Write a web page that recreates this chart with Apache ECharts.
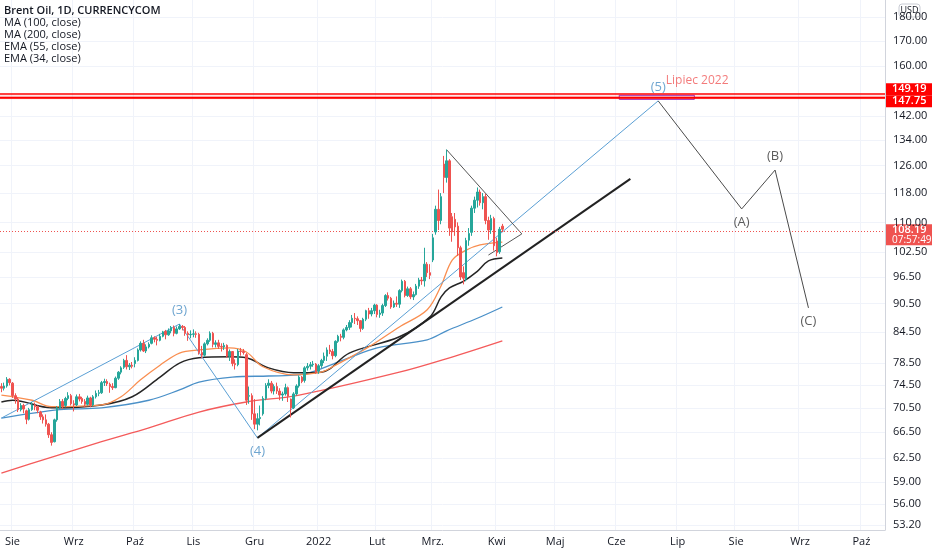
<!DOCTYPE html>
<html>
<head>
<meta charset="utf-8">
<script src="https://cdn.jsdelivr.net/npm/echarts@6/dist/echarts.min.js"></script>
<style>
html, body { margin: 0; padding: 0; background: #fff; }
#chart { width: 932px; height: 550px; }
</style>
</head>
<body>
<div id="chart"></div>
<script>
// --- data ---
const monthNames = ['Sty', 'Lut', 'Mrz.', 'Kwi', 'Maj', 'Cze', 'Lip', 'Sie', 'Wrz', 'Paź', 'Lis', 'Gru'];
const firstDay = '2021-07-27';
const totalBars = 318;
const priceTicks = [180, 170, 160, 142, 134, 126, 118, 110, 102.5, 96.5, 90.5, 84.5, 78.5, 74.5, 70.5, 66.5, 62.5, 59, 56, 53.2];

// [open, close, low, high], one row per trading day from firstDay
const candles = [
  // lip 2021
  [74.2, 73.9, 73.2, 74.8], [73.9, 74.3, 73.5, 74.9], [74.3, 75.5, 74.0, 75.9], [75.5, 74.9, 74.4, 75.7],
  // sie
  [74.8, 72.6, 72.2, 75.0], [72.6, 72.0, 71.2, 73.0], [72.0, 70.2, 69.8, 72.3], [70.2, 70.9, 69.9, 71.3],
  [70.9, 70.3, 69.6, 71.2], [70.0, 68.6, 67.8, 70.2], [68.6, 70.2, 68.4, 70.5], [70.2, 71.0, 70.0, 71.5],
  [71.0, 70.7, 70.1, 71.4], [70.7, 70.1, 69.6, 70.9], [69.8, 69.0, 68.5, 70.0], [69.0, 68.5, 67.9, 69.4],
  [68.5, 67.8, 67.4, 69.4], [67.8, 66.1, 65.6, 68.0], [66.1, 64.9, 64.4, 66.5], [65.0, 68.5, 64.9, 68.7],
  [68.5, 70.5, 68.2, 70.8], [70.5, 71.6, 70.3, 72.0], [71.6, 70.8, 70.3, 72.0], [70.9, 72.1, 70.6, 72.4],
  [72.1, 72.6, 71.8, 73.2], [72.6, 71.2, 70.9, 72.9],
  // wrz
  [71.2, 71.0, 69.9, 71.8], [71.0, 72.4, 70.8, 72.8], [72.4, 72.0, 71.6, 72.9], [72.1, 71.6, 71.2, 72.4],
  [71.6, 71.1, 70.6, 72.0], [71.1, 72.2, 70.9, 72.6], [72.2, 71.0, 70.6, 72.4], [71.0, 72.4, 70.8, 72.7],
  [72.4, 73.0, 72.1, 73.5], [73.0, 73.1, 72.5, 73.6], [73.1, 74.9, 72.9, 75.2], [74.9, 75.1, 74.3, 75.6],
  [75.1, 74.7, 74.3, 75.5], [74.6, 74.2, 73.1, 74.9], [74.2, 74.0, 73.6, 74.8], [74.0, 75.7, 73.9, 76.0],
  [75.7, 76.8, 75.4, 77.0], [76.8, 77.6, 76.4, 77.9], [77.7, 79.0, 77.4, 79.3], [79.0, 77.8, 77.3, 80.0],
  [77.8, 78.1, 77.2, 78.5], [78.1, 77.9, 77.5, 78.7],
  // paź
  [78.4, 79.0, 77.7, 79.6], [79.0, 81.0, 78.8, 81.3], [81.0, 82.3, 80.7, 82.7], [82.3, 80.8, 80.6, 83.0],
  [80.8, 81.6, 80.4, 82.1], [81.6, 82.1, 81.3, 82.5], [82.3, 83.4, 82.1, 83.9], [83.4, 83.1, 82.5, 83.7],
  [83.1, 82.9, 81.9, 83.6], [82.9, 83.7, 82.7, 84.2], [83.7, 84.6, 83.5, 84.8], [84.7, 84.0, 83.1, 85.0],
  [84.0, 84.8, 83.8, 85.3], [84.8, 85.5, 84.3, 85.8], [85.5, 84.3, 83.7, 85.9], [84.3, 85.2, 84.1, 85.7],
  [85.2, 85.7, 85.0, 86.2], [85.7, 85.5, 84.9, 86.0], [85.5, 84.3, 83.8, 85.8], [84.3, 84.0, 82.8, 84.7],
  [84.0, 84.1, 83.3, 84.9],
  // lis
  [84.1, 84.2, 83.5, 85.1], [84.2, 84.1, 83.4, 84.7], [84.1, 80.5, 80.1, 84.4], [80.5, 80.0, 79.4, 81.8],
  [80.0, 82.2, 79.7, 82.5], [82.2, 82.9, 81.9, 83.3], [82.9, 84.3, 82.6, 84.7], [84.3, 82.1, 81.5, 84.6],
  [82.1, 82.4, 81.5, 82.9], [82.4, 81.7, 81.2, 83.0], [81.7, 81.6, 80.7, 82.3], [81.6, 81.9, 81.0, 82.4],
  [81.9, 79.8, 79.5, 82.1], [79.8, 80.7, 78.9, 81.1], [80.7, 78.4, 77.9, 80.8], [78.4, 78.2, 77.3, 79.2],
  [78.2, 80.8, 77.9, 81.2], [80.8, 80.7, 79.9, 81.4], [80.7, 80.5, 80.1, 81.2], [80.1, 71.8, 71.0, 80.4],
  [72.5, 72.6, 71.2, 74.2], [72.6, 69.5, 68.5, 73.0],
  // gru
  [69.5, 67.8, 67.0, 72.0], [67.8, 68.7, 66.8, 69.6], [68.7, 68.9, 67.6, 70.9], [69.5, 72.1, 69.2, 72.5],
  [72.1, 74.4, 71.8, 74.8], [74.4, 74.8, 73.9, 75.5], [74.8, 73.4, 73.0, 75.2], [73.4, 74.2, 72.8, 74.6],
  [74.2, 73.4, 72.9, 74.9], [73.4, 72.7, 71.8, 73.9], [72.7, 72.9, 71.7, 73.3], [72.9, 74.0, 72.6, 74.7],
  [74.0, 72.5, 71.5, 74.2], [72.0, 70.5, 68.9, 72.1], [70.5, 72.9, 70.3, 73.2], [72.9, 74.3, 72.6, 74.6],
  [74.3, 75.9, 74.0, 76.2], [75.9, 75.1, 74.8, 76.1], [75.3, 77.6, 74.9, 77.9], [77.6, 77.9, 77.1, 78.5],
  [77.9, 78.2, 77.3, 78.7], [78.2, 78.3, 77.8, 78.9], [78.3, 76.8, 76.5, 78.5],
  // sty 2022
  [77.0, 78.0, 76.5, 78.3], [78.0, 79.0, 77.6, 79.3], [79.0, 79.8, 78.5, 80.5], [79.8, 81.0, 78.9, 81.5],
  [81.0, 80.7, 80.2, 82.0], [80.7, 79.9, 79.2, 81.2], [79.9, 82.7, 79.6, 82.9], [82.7, 83.7, 82.4, 84.0],
  [83.7, 83.5, 82.7, 84.2], [83.5, 85.0, 83.1, 85.3], [85.0, 85.5, 84.7, 86.0], [85.5, 86.5, 85.0, 87.0],
  [86.5, 87.4, 85.5, 88.1], [87.4, 87.3, 86.2, 88.5], [87.3, 86.9, 86.0, 87.8], [86.9, 85.3, 84.6, 87.0],
  [85.3, 87.2, 85.0, 87.5], [87.2, 89.0, 86.8, 89.2], [89.0, 88.3, 87.3, 89.6], [88.3, 89.0, 87.8, 89.6],
  [89.0, 90.2, 88.3, 90.5],
  // lut
  [90.2, 88.2, 87.6, 90.4], [88.2, 88.5, 87.5, 89.2], [88.5, 90.1, 87.9, 90.5], [90.1, 92.3, 89.8, 92.6],
  [92.3, 91.7, 91.2, 93.0], [91.7, 89.8, 89.4, 92.0], [89.8, 90.6, 89.6, 91.2], [90.6, 90.4, 89.8, 92.1],
  [90.4, 93.4, 89.6, 93.7], [93.4, 95.5, 93.0, 95.9], [95.5, 92.3, 91.9, 95.8], [92.3, 93.8, 92.0, 94.3],
  [93.8, 92.0, 91.5, 94.2], [92.0, 92.5, 91.3, 93.2], [92.5, 94.4, 92.3, 94.9], [94.4, 95.8, 93.8, 96.3],
  [95.8, 95.6, 94.7, 96.5], [95.6, 99.5, 94.3, 103.5], [99.5, 97.5, 96.5, 100.0], [97.5, 96.9, 96.0, 99.5],
  // mrz
  [100.5, 106.0, 100.0, 107.0], [107.5, 113.5, 106.8, 114.5], [113.5, 110.5, 108.0, 119.0], [110.5, 117.0, 109.5, 118.0],
  [126.5, 122.5, 118.0, 129.0], [122.5, 127.5, 121.0, 131.0], [127.5, 108.5, 106.5, 128.0], [111.5, 107.5, 105.0, 112.5],
  [110.8, 108.8, 106.5, 112.5], [109.0, 103.5, 101.5, 110.0], [103.5, 96.5, 95.8, 104.0], [97.5, 96.2, 94.8, 99.0],
  [96.0, 105.3, 95.5, 106.0], [105.4, 107.1, 104.0, 108.5], [107.4, 113.8, 106.5, 114.5], [113.8, 116.0, 112.5, 117.0],
  [116.0, 118.3, 114.0, 119.6], [118.3, 115.3, 114.5, 119.0], [115.3, 117.0, 113.5, 118.0], [117.0, 110.5, 109.5, 117.8],
  [110.5, 108.0, 105.5, 111.5], [108.0, 111.0, 107.0, 112.0], [111.0, 104.0, 102.8, 111.5],
  // kwi
  [105.2, 102.3, 101.4, 106.0], [102.5, 108.2, 102.0, 108.8], [109.0, 108.19, 107.5, 109.6]
];

// moving averages, [date, price]
const ma100 = [
  ['2021-07-27', 68.8], ['2021-08-25', 70.2], ['2021-09-15', 70.5], ['2021-10-08', 71.8], ['2021-10-25', 73.6],
  ['2021-11-03', 75.0], ['2021-11-19', 75.9], ['2021-12-08', 76.1], ['2021-12-23', 76.3], ['2022-01-14', 79.1],
  ['2022-02-01', 81.4], ['2022-02-25', 83.0], ['2022-03-08', 84.8], ['2022-03-23', 87.4], ['2022-04-05', 89.8]
];
const ma200 = [
  ['2021-07-27', 60.3], ['2021-08-19', 62.5], ['2021-09-15', 65.0], ['2021-10-08', 67.2], ['2021-11-03', 69.8],
  ['2021-11-26', 71.5], ['2021-12-23', 72.7], ['2022-02-11', 76.8], ['2022-03-09', 79.5], ['2022-04-05', 82.8]
];
const ema55 = [
  ['2021-07-27', 71.5], ['2021-08-02', 71.8], ['2021-08-20', 70.5], ['2021-09-15', 71.0], ['2021-09-30', 72.4],
  ['2021-10-14', 75.9], ['2021-10-25', 78.5], ['2021-11-03', 79.5], ['2021-11-18', 79.7], ['2021-11-26', 79.5],
  ['2021-12-08', 77.6], ['2021-12-21', 76.7], ['2022-01-04', 76.8], ['2022-01-18', 80.4], ['2022-02-11', 83.6],
  ['2022-02-28', 87.7], ['2022-03-04', 92.0], ['2022-03-09', 94.0], ['2022-03-16', 95.5], ['2022-03-23', 97.8],
  ['2022-03-29', 100.3], ['2022-04-05', 101.0]
];
const ema34 = [
  ['2021-07-27', 72.7], ['2021-08-11', 71.8], ['2021-08-20', 70.7], ['2021-09-15', 71.0], ['2021-09-24', 72.4],
  ['2021-10-05', 75.4], ['2021-10-14', 78.1], ['2021-10-25', 80.4], ['2021-11-03', 81.0], ['2021-11-18', 81.4],
  ['2021-11-26', 80.6], ['2021-12-06', 77.8], ['2021-12-21', 76.3], ['2022-01-04', 76.8], ['2022-01-10', 77.8],
  ['2022-01-27', 81.6], ['2022-02-11', 85.6], ['2022-02-25', 89.2], ['2022-03-04', 94.5], ['2022-03-10', 100.5],
  ['2022-03-17', 102.9], ['2022-03-24', 104.2], ['2022-04-05', 104.9]
];

// drawings
const wavePoints = [['2021-07-27', 68.8], ['2021-10-25', 86.2], ['2021-12-02', 65.6], ['2022-06-22', 147.2]];
const waveNames = ['', '(3)', '(4)', '(5)'];
const correctionPoints = [['2022-06-22', 147.2], ['2022-08-03', 113.6], ['2022-08-19', 124.7], ['2022-09-06', 89.6]];
const correctionNames = ['', '(A)', '(B)', '(C)'];
const trendPoints = [['2021-12-02', 65.6], ['2022-06-08', 122.1]];
const trianglePoints = [['2022-03-08', 130.9], ['2022-04-14', 107.0], ['2022-03-29', 101.7]];
const levels = [149.19, 147.75];
const targetZone = ['2022-06-02', '2022-07-11'];
const targetNote = ['2022-07-12', 154.4, 'Lipiec 2022'];
const lastPrice = 108.19;
const barTimer = '07:57:49';
const legendLines = ['Brent Oil, 1D, CURRENCYCOM', 'MA (100, close)', 'MA (200, close)', 'EMA (55, close)', 'EMA (34, close)'];

// --- build ---
function weekdays(start, n) {
  const out = [];
  const d = new Date(start + 'T00:00:00Z');
  while (out.length < n) {
    const wd = d.getUTCDay();
    if (wd !== 0 && wd !== 6) out.push(d.toISOString().slice(0, 10));
    d.setUTCDate(d.getUTCDate() + 1);
  }
  return out;
}
const dates = weekdays(firstDay, totalBars);
const ln = Math.log;
const toLn = pts => pts.map(p => [p[0], ln(p[1])]);
const isMonthStart = idx => idx > 0 && dates[idx].slice(5, 7) !== dates[idx - 1].slice(5, 7);

const font = '"Open Sans", sans-serif';
const blue = '#5a9fd4';
const upColor = '#26a69a';
const downColor = '#ef5350';

function pointLabels(points, names, color) {
  return points.map((p, i) => {
    const prev = points[i - 1], next = points[i + 1];
    const neighbour = prev ? prev[1] : next[1];
    const isPeak = p[1] > neighbour;
    return {
      value: [p[0], ln(p[1])],
      label: {
        show: names[i] !== '', formatter: names[i], position: isPeak ? 'top' : 'bottom',
        distance: 7, color: color, fontSize: 13, fontFamily: font
      }
    };
  });
}

var chartDom = document.getElementById('chart');
var myChart = echarts.init(chartDom);

const yMin = ln(180) - 513 / 417;
const yMax = ln(180) + 17 / 417;

const maLine = (name, pts, color, width) => ({
  name: name, type: 'line', data: toLn(pts), showSymbol: false, smooth: 0.35,
  lineStyle: { color: color, width: width }, silent: true, z: 3
});
const drawLine = (pts, color, width) => ({
  type: 'line', data: toLn(pts), showSymbol: false, silent: true,
  lineStyle: { color: color, width: width }, z: 4
});

var option = {
  animation: false,
  grid: { left: 0, right: 47, top: 0, bottom: 20 },
  xAxis: {
    type: 'category', data: dates, boundaryGap: true,
    axisLine: { show: true, lineStyle: { color: '#d1d4dc' } },
    axisTick: { show: false },
    axisLabel: {
      interval: (idx) => isMonthStart(idx), margin: 6,
      color: '#131722', fontSize: 11, fontFamily: font,
      formatter: (v) => {
        const m = parseInt(v.slice(5, 7), 10);
        return m === 1 ? v.slice(0, 4) : monthNames[m - 1];
      }
    },
    splitLine: { show: true, interval: (idx) => isMonthStart(idx), lineStyle: { color: '#f0f3fa' } }
  },
  yAxis: {
    type: 'value', position: 'right', min: yMin, max: yMax,
    axisLine: { show: true, lineStyle: { color: '#d1d4dc' } },
    axisTick: { show: false, customValues: priceTicks.map(ln) },
    axisLabel: {
      customValues: priceTicks.map(ln), margin: 8,
      color: '#131722', fontSize: 11, fontFamily: font,
      formatter: (v) => Math.exp(v).toFixed(2)
    },
    splitLine: { show: true, lineStyle: { color: '#f0f3fa' } }
  },
  series: [
    {
      name: 'Brent', type: 'candlestick', barWidth: 2, z: 5,
      data: candles.map(r => r.map(ln)),
      itemStyle: { color: upColor, color0: downColor, borderColor: upColor, borderColor0: downColor, borderWidth: 1 },
      markLine: {
        silent: true, symbol: ['none', 'none'], label: { show: false },
        data: [
          { yAxis: ln(levels[0]), lineStyle: { color: '#ff0000', width: 1.6, type: 'solid' } },
          { yAxis: (ln(levels[0]) + ln(levels[1])) / 2, lineStyle: { color: '#ff0000', width: 1.4, type: 'solid' } },
          { yAxis: ln(levels[1]), lineStyle: { color: '#ff0000', width: 1.6, type: 'solid' } },
          { yAxis: ln(lastPrice), lineStyle: { color: downColor, width: 1, type: [1, 2], opacity: 1 } }
        ]
      },
      markArea: {
        silent: true,
        data: [
          [{ yAxis: ln(levels[0]), itemStyle: { color: 'rgba(255,120,120,0.25)' } }, { yAxis: ln(levels[1]) }],
          [{ xAxis: targetZone[0], yAxis: ln(levels[0]), itemStyle: { color: 'rgba(156,39,176,0.08)', borderColor: '#9c27b0', borderWidth: 1 } },
           { xAxis: targetZone[1], yAxis: ln(levels[1]) }]
        ]
      }
    },
    maLine('MA (200, close)', ma200, '#f45b5b', 1.3),
    maLine('MA (100, close)', ma100, '#4a90c8', 1.3),
    maLine('EMA (55, close)', ema55, '#262626', 1.5),
    maLine('EMA (34, close)', ema34, '#f98e50', 1.3),
    drawLine(wavePoints, blue, 1),
    drawLine(trendPoints, '#222222', 2),
    drawLine(correctionPoints, '#4a4a4a', 1),
    drawLine(trianglePoints.concat([trianglePoints[0]]).slice(0, 3), '#555555', 1),
    {
      type: 'scatter', symbolSize: 0, silent: true, z: 6,
      data: pointLabels(wavePoints, waveNames, '#4a8fc4').concat(pointLabels(correctionPoints, correctionNames, '#333333'))
    },
    {
      type: 'scatter', symbolSize: 0, silent: true, z: 6,
      data: [{
        value: [targetNote[0], ln(targetNote[1])],
        label: { show: true, position: 'inside', formatter: targetNote[2], color: '#f05a5a', fontSize: 12, fontFamily: font }
      }]
    }
  ]
};

option && myChart.setOption(option);

// price tags on the right scale
const yOf = v => myChart.convertToPixel({ yAxisIndex: 0 }, ln(v));
const axisX = 885;
const y1 = yOf(levels[0]);
const yl = yOf(lastPrice);
const tag = (y, h, fill, lines) => ({
  type: 'group', z: 100,
  children: [{ type: 'rect', shape: { x: axisX + 1, y: y, width: 46, height: h }, style: { fill: fill } }]
    .concat(lines.map((t, i) => ({
      type: 'text',
      style: {
        x: axisX + 7, y: y + 6 + i * 10, text: t, fill: '#ffffff',
        font: (i === 0 ? '600 11px ' : '10px ') + font, textVerticalAlign: 'middle'
      }
    })))
});
myChart.setOption({
  graphic: legendLines.map((t, i) => ({
    type: 'text', left: 4, top: 5 + i * 12, z: 100,
    style: { text: t, fill: '#131722', font: (i === 0 ? '600 ' : '') + '11px ' + font }
  })).concat([
    tag(y1 - 12, 12, '#ff0000', [levels[0].toFixed(2)]),
    tag(y1, 12, '#ff0000', [levels[1].toFixed(2)]),
    tag(yl - 5, 21, '#ef5350', [lastPrice.toFixed(2), barTimer]),
    {
      type: 'group', z: 100,
      children: [
        { type: 'rect', shape: { x: 899, y: 4, width: 21, height: 13, r: 3 }, style: { fill: '#ffffff', stroke: '#c9ccd4', lineWidth: 1 } },
        { type: 'text', style: { x: 909.5, y: 10.5, text: 'USD', fill: '#131722', font: '9px ' + font, textAlign: 'center', textVerticalAlign: 'middle' } }
      ]
    }
  ])
});
</script>
</body>
</html>
